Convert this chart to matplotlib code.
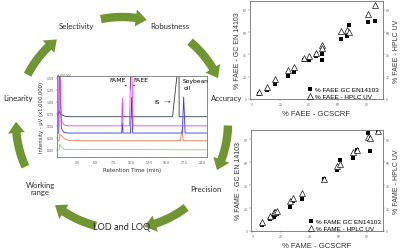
import numpy as np
import matplotlib.pyplot as plt
from matplotlib.patches import Polygon

# ---- data ----
# chromatogram traces: (retention time in min, intensity x1e6) vertices
black_t = [-0.3, 0.0, 0.25, 0.8, 1.5, 15.8, 16.45, 16.7, 16.72, 20.6]
black_i = [0.69, 0.80, 0.74, 0.70, 0.69, 0.69, 1.60, 1.60, 0.69, 0.69]
magenta_t = [-0.3, -0.05, 0.0, 0.12, 0.3, 0.7, 1.2, 8.7, 8.8, 8.9, 9.8, 9.95, 10.15, 10.3, 20.6]
magenta_i = [0.50, 0.50, 1.60, 1.60, 0.60, 0.52, 0.50, 0.50, 1.08, 0.50, 0.50, 1.60, 1.60, 0.50, 0.50]
blue_t = [-0.3, -0.05, 0.0, 0.1, 0.3, 0.6, 1.2, 8.7, 8.8, 8.9, 9.95, 10.1, 10.25, 17.15, 17.35, 17.55, 20.6]
blue_i = [0.35, 0.35, 1.60, 1.60, 0.45, 0.37, 0.35, 0.35, 0.55, 0.35, 0.35, 1.10, 0.35, 0.35, 1.10, 0.35, 0.35]
red_t = [-0.3, 0.0, 0.05, 0.3, 0.8, 1.5, 16.9, 17.1, 17.3, 20.6]
red_i = [0.19, 0.19, 0.32, 0.30, 0.22, 0.19, 0.19, 0.42, 0.19, 0.19]
green_t = [-0.3, 0.0, 0.05, 0.3, 0.7, 20.6]
green_i = [0.0, 0.0, 0.12, 0.06, 0.01, 0.0]

# FAEE comparison
faee_scrf = [5.5, 11, 16.5, 25.5, 29.7, 36.6, 40, 44.8, 49, 49, 62, 66, 67.5, 80.7, 85.5]
faee_gc = [4.5, 8.1, 13.5, 20.7, 24.3, 35, 35, 38.7, 40.5, 35, 54, 56.7, 66.7, 69.4, 70.3]
faee_hplc = [6.3, 10.8, 18, 26, 28.8, 37, 38.7, 41.4, 48.6, 46, 61, 62, 60, 76.5, 84.7]

# FAME comparison
fame_scrf = [6.9, 12.4, 15.2, 15.9, 17.2, 26.2, 28.3, 34.5, 49.7, 58.6, 60.7, 70.3, 73, 80.7, 82, 87.6]
fame_gc = [5.3, 10.7, 12.4, 14.2, 15.1, 21.3, 25.8, 27.6, 45.3, 53.3, 62.2, 64, 71, 85.3, 69.3, 87.1]
fame_hplc = [8, 13.3, 16.9, 16.9, 17.8, 25.8, 28.4, 32.9, 45.3, 56.9, 58.7, 68.4, 71, 81.8, 80.9, 87.1]

cycle_labels = ['Selectivity', 'Robustness', 'Accuracy', 'Precision',
                'LOD and LOQ', 'Working\nrange', 'Linearity']

green = '#6f9632'
fig = plt.figure(figsize=(4, 2.53), dpi=100)

# background axes in pixel units for the arrow cycle
bg = fig.add_axes([0, 0, 1, 1])
bg.set_xlim(0, 400)
bg.set_ylim(253, 0)
bg.axis('off')


def arc_arrow(ax, a0, a1, cx=122, cy=124, r=106, hw=4.2, hh=8.5, hl=6):
    # thick arc from a0 to a1 (deg, clockwise) with head at a1
    a_neck = a1 + hl
    ang = np.radians(np.linspace(a0, a_neck, 30))
    outer = [(cx + (r + hw) * np.cos(a), cy - (r + hw) * np.sin(a)) for a in ang]
    inner = [(cx + (r - hw) * np.cos(a), cy - (r - hw) * np.sin(a)) for a in ang[::-1]]
    an = np.radians(a_neck)
    at = np.radians(a1)
    head = [(cx + (r + hh) * np.cos(an), cy - (r + hh) * np.sin(an)),
            (cx + r * np.cos(at), cy - r * np.sin(at)),
            (cx + (r - hh) * np.cos(an), cy - (r - hh) * np.sin(an))]
    pts = outer + head + inner
    ax.add_patch(Polygon(pts, closed=True, color=green, lw=0))


for k in range(7):
    c = 89 - k * 360 / 7
    arc_arrow(bg, c + 12.5, c - 12.5)

label_pos = [(76, 26, 5.6), (170, 26, 5.6), (227, 99, 5.6), (206, 189, 5.6),
             (122, 228, 6.6), (40, 189, 5.6), (18, 99, 5.6)]
for txt, (x, y, fs) in zip(cycle_labels, label_pos):
    bg.text(x, y, txt, ha='center', va='center', fontsize=fs,
            family='Lato', color='#2a2a2a', linespacing=1.15)

# ---- chromatogram ----
ch = fig.add_axes([57 / 400, 1 - 158 / 253, 150 / 400, 81 / 253])
for t, i, col in [(green_t, green_i, '#74dd74'), (red_t, red_i, '#f07a5a'),
                  (black_t, black_i, '#3a3a3a'), (blue_t, blue_i, '#3535e6'),
                  (magenta_t, magenta_i, '#ee3cee')]:
    ch.plot(t, i, color=col, lw=0.6)
ch.set_xlim(-0.3, 20.6)
ch.set_ylim(-0.15, 1.54)
ch.set_xticks([2.5, 5.0, 7.5, 10.0, 12.5, 15.0, 17.5, 20.0])
ch.set_xticklabels(['2.5', '5.0', '7.5', '10.0', '12.5', '15.0', '17.5', '20.0'])
ch.set_yticks([0, 0.25, 0.5, 0.75, 1.0, 1.25, 1.5])
ch.set_yticklabels(['0.00', '0.25', '0.50', '0.75', '1.00', '1.25', '1.50'])
ch.tick_params(labelsize=2.3, length=1, width=0.3, pad=1, colors='#555555')
for s in ch.spines.values():
    s.set_linewidth(0.6)
    s.set_color('#777777')
ch.set_xlabel('Retention Time (min)', fontsize=4, labelpad=2, color='#333333')
ch.set_ylabel('Intensity - µV (x1,000,000)', fontsize=3.8, labelpad=2, color='#333333')
ch.text(0.0, 1.005, 'x1,000,000', transform=ch.transAxes, fontsize=2, color='#555555')
ch.text(8.2, 1.46, 'FAME', fontsize=4.4, ha='center', va='center')
ch.text(11.4, 1.46, 'FAEE', fontsize=4.4, ha='center', va='center')
ch.plot([9.85, 9.85], [1.30, 1.54], color='#333333', lw=0.4)
ch.annotate('', xy=(9.1, 1.34), xytext=(9.85, 1.34),
            arrowprops=dict(arrowstyle='-|>', lw=0.3, mutation_scale=2, color='#333333'))
ch.annotate('', xy=(10.6, 1.34), xytext=(9.85, 1.34),
            arrowprops=dict(arrowstyle='-|>', lw=0.3, mutation_scale=2, color='#333333'))
ch.text(17.2, 1.45, 'Soybean', fontsize=4.3, ha='left', va='center')
ch.text(17.4, 1.29, 'oil', fontsize=4.3, ha='left', va='center')
ch.text(13.6, 1.0, 'IS', fontsize=4.3, ha='center', va='center')
ch.annotate('', xy=(15.9, 1.0), xytext=(14.3, 1.0),
            arrowprops=dict(arrowstyle='-|>', lw=0.3, mutation_scale=2, color='#333333'))


# ---- scatter comparisons ----
def comparison(rect, xs, gc, hplc, name):
    ax = fig.add_axes(rect)
    ax.plot(xs, gc, 's', color='black', ms=3.1, mew=0, label=f'% {name} GC EN14103')
    ax.plot(xs, hplc, '^', mfc='white', mec='black', ms=3.9, mew=0.45,
            label=f'% {name} - HPLC UV')
    ax.set_xlim(-1, 91)
    ax.set_ylim(0, 88)
    ax.set_xticks([0, 20, 40, 60, 80])
    ax.set_yticks([0, 20, 40, 60, 80])
    ax.tick_params(labelsize=2.2, length=1.2, width=0.3, pad=1, colors='#666666')
    for s in ax.spines.values():
        s.set_linewidth(0.5)
        s.set_color('#555555')
    ax.set_xlabel(f'% {name} - GCSCRF', fontsize=5.6, labelpad=3, color='#333333',
                  family='Liberation Sans')
    ax.set_ylabel(f'% {name} - GC EN 14103', fontsize=5.0, labelpad=1.5, color='#333333',
                  family='Liberation Sans')
    tw = ax.twinx()
    tw.set_ylim(0, 88)
    tw.set_yticks([0, 20, 40, 60, 80])
    tw.tick_params(labelsize=2.2, length=1.2, width=0.3, pad=1, colors='#666666')
    tw.set_ylabel(f'% {name} - HPLC UV', fontsize=5.0, labelpad=2, color='#333333',
                  family='Liberation Sans')
    for s in tw.spines.values():
        s.set_visible(False)
    ax.legend(loc='lower left', bbox_to_anchor=(0.41, -0.03), frameon=False,
              prop={'family': 'Liberation Sans', 'size': 4.6},
              handletextpad=0.3, handlelength=1.0, labelspacing=0.25,
              borderaxespad=0)
    return ax


comparison([250 / 400, 1 - 100 / 253, 133 / 400, 98 / 253],
           faee_scrf, faee_gc, faee_hplc, 'FAEE')
comparison([251 / 400, 1 - 232 / 253, 132 / 400, 101 / 253],
           fame_scrf, fame_gc, fame_hplc, 'FAME')

fig.savefig('out.png', dpi=100)
